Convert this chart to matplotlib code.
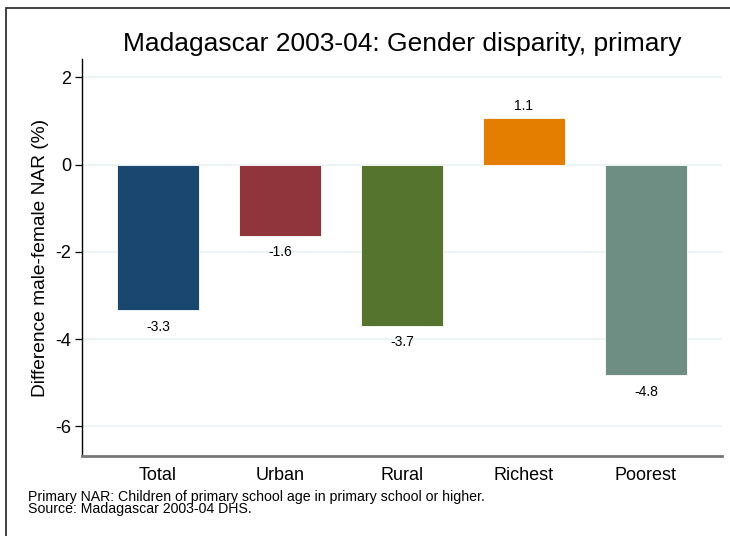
import matplotlib.pyplot as plt
import matplotlib.patches as mpatches

plt.rcParams['font.family'] = ['Liberation Sans', 'DejaVu Sans']

groups = ["Total", "Urban", "Rural", "Richest", "Poorest"]
values = [-3.34, -1.63, -3.69, 1.06, -4.83]
colors = ["#1a476f", "#90353b", "#55752f", "#e37e00", "#6e8e84"]
yticks = [2, 0, -2, -4, -6]
notes = ["Primary NAR: Children of primary school age in primary school or higher.",
         "Source: Madagascar 2003-04 DHS."]

W, H = 730, 536
fig = plt.figure(figsize=(W / 100, H / 100), dpi=100)
fig.patch.set_facecolor("white")

# outer frame (cropped on the right and bottom)
fig.add_artist(mpatches.Rectangle((6 / W, -0.1), 2, 1 - 8 / H + 0.1,
                                  transform=fig.transFigure, fill=False,
                                  edgecolor="#333333", linewidth=1.3))

ax = fig.add_axes([82 / W, 1 - 456 / H, 640 / W, (456 - 59) / H])
x = list(range(len(groups)))
ax.bar(x, values, width=0.672, color=colors, edgecolor="white",
       linewidth=0.6, zorder=3)

for xi, v in zip(x, values):
    if v >= 0:
        ax.annotate(f"{v:.1f}", (xi, v), xytext=(0, 4), textcoords="offset points",
                    ha="center", va="bottom", fontsize=10)
    else:
        ax.annotate(f"{v:.1f}", (xi, v), xytext=(0, -7), textcoords="offset points",
                    ha="center", va="top", fontsize=10)

ax.set_xlim(-0.623, 4.623)
ax.set_ylim(-6.68, 2.42)
ax.set_yticks(yticks)
ax.set_yticklabels([str(t) for t in yticks], fontsize=13)
ax.set_xticks(x)
ax.set_xticklabels(groups, fontsize=13)
ax.tick_params(axis="x", length=0, pad=8)
ax.tick_params(axis="y", length=5, width=0.9, pad=3)
ax.grid(axis="y", color="#eaf2f3", linewidth=1.2, zorder=0)
ax.set_axisbelow(True)

for s in ["top", "right"]:
    ax.spines[s].set_visible(False)
ax.spines["left"].set_linewidth(1.0)
ax.spines["left"].set_color("black")
ax.spines["bottom"].set_linewidth(2.0)
ax.spines["bottom"].set_color("#777777")

ax.set_ylabel("Difference male-female NAR (%)", fontsize=13.8, labelpad=4)
ax.set_title("Madagascar 2003-04: Gender disparity, primary", fontsize=19, pad=6)

fig.text(28 / W, 1 - 503 / H, "\n".join(notes),
         fontsize=10.2, ha="left", va="center", linespacing=0.75)

fig.savefig("out.png", dpi=100)
